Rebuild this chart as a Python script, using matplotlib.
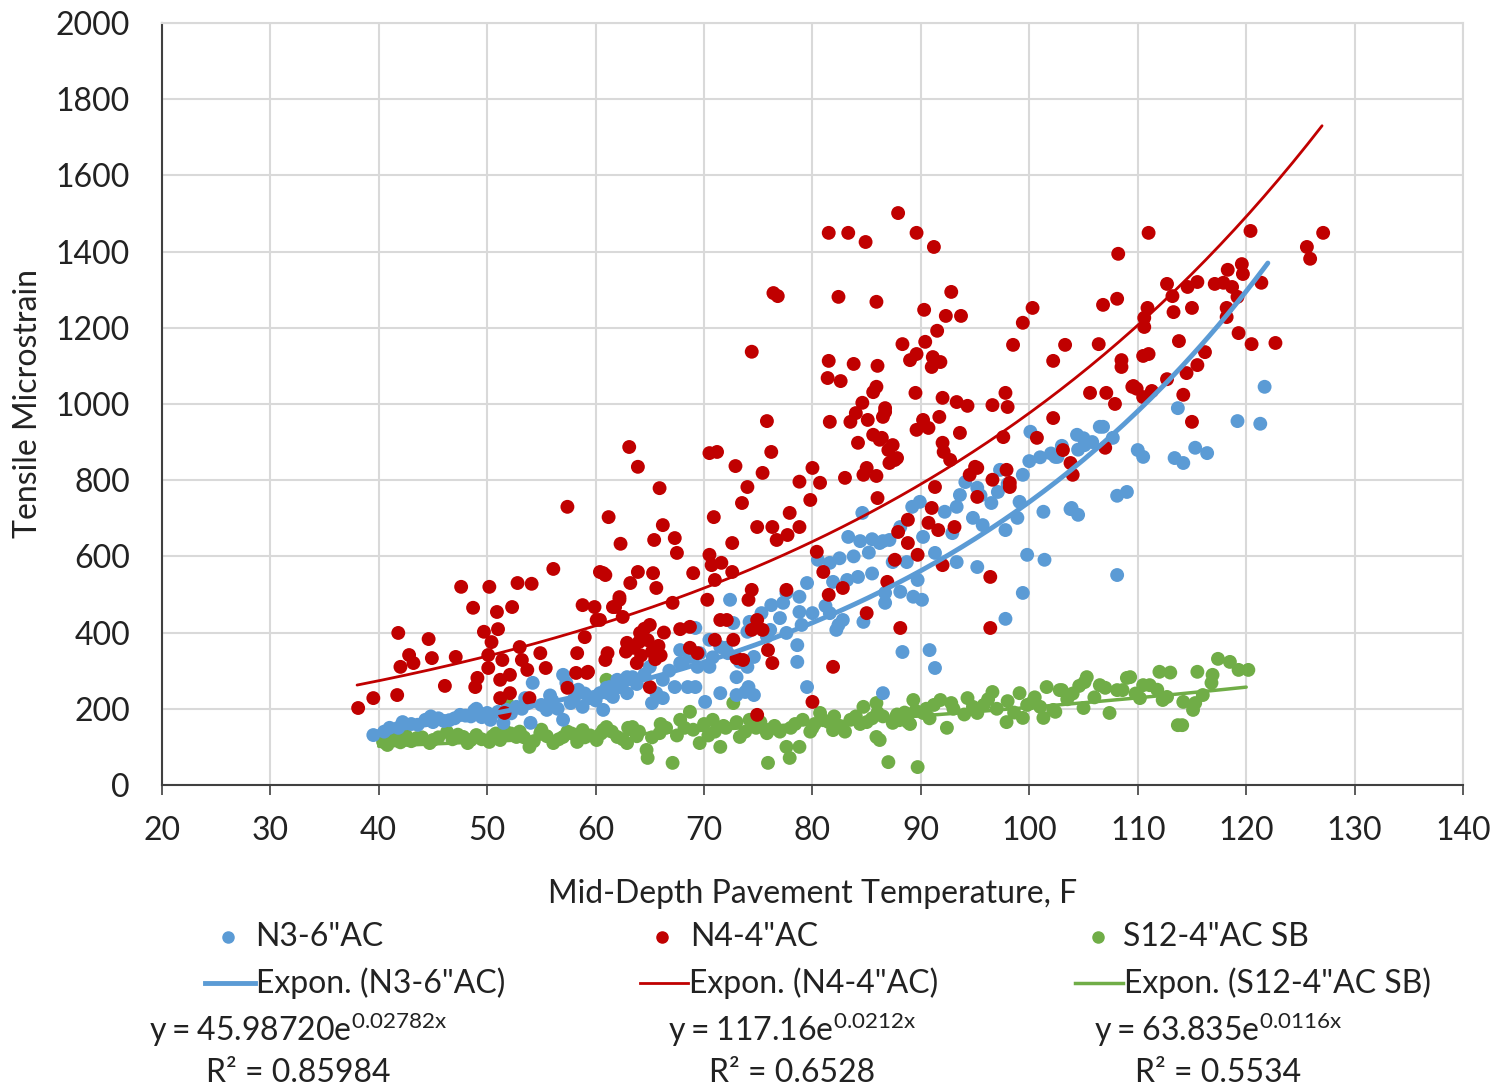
import matplotlib
matplotlib.use("Agg")
import matplotlib.pyplot as plt
import numpy as np
from matplotlib.lines import Line2D

plt.rcParams['font.family'] = ['Lato', 'DejaVu Sans']

# N3-6"AC (blue)
n3_x = [39.5, 42.2, 44.3, 47.5, 50.0, 50.3, 51.5, 51.8, 52.7, 53.8, 54.2, 55.5, 54.0, 57.0, 57.3, 57.0,
        57.7, 59.5, 61.0, 62.0, 62.9, 58.8, 60.7, 61.6, 62.9, 41.0, 43.0, 45.5, 48.5, 49.0, 46.5,
        40.5, 41.8, 43.6, 45.0, 46.0, 47.0, 48.0, 49.5, 51.0, 52.2, 53.2, 55.0, 56.0, 56.5, 58.0,
        59.0, 60.0, 61.2, 62.4, 63.8, 64.5, 58.4, 55.8, 53.5, 48.8, 44.8,
        84.6, 83.3, 84.4, 85.5, 86.5, 80.5, 81.6, 82.5, 83.8, 85.2, 81.9, 83.2, 84.2, 85.5, 79.5,
        77.6, 78.8, 76.2, 77.3, 72.4, 75.3, 78.8, 80.0, 77.0, 74.2, 72.7, 69.2, 70.5, 74.0, 76.1,
        77.6, 78.6, 81.6, 82.2, 82.8, 84.7, 86.7, 67.8, 68.7, 69.6, 71.5, 72.2, 67.8, 69.4, 70.5,
        73.0, 74.0, 74.6, 73.3, 65.0, 63.4, 62.2, 61.3, 60.4, 66.2, 67.3, 65.6, 65.2, 66.2, 68.5,
        69.2, 70.1, 71.5, 73.0, 73.8, 74.6, 74.1, 79.5, 78.6, 86.5, 82.4,
        66.8, 68.0, 70.8, 72.0, 75.8, 79.0, 81.2,
        100.1, 104.4, 105.0, 105.8, 104.5, 106.5, 107.7, 102.6, 110.0, 113.4, 113.7, 108.1, 109.0,
        99.4, 101.3, 103.9, 104.5, 97.1, 99.1, 98.9, 97.8, 95.7, 94.8, 93.6, 94.1, 95.2, 97.3,
        93.3, 92.2, 92.9, 89.9, 89.2, 88.1, 87.1, 86.2, 90.2, 88.7, 87.4, 91.3, 93.3, 95.2, 89.7,
        88.1, 86.7, 89.3, 90.1, 99.8, 101.4, 108.1, 99.4, 97.8, 88.3, 90.8, 91.3,
        119.2, 121.3, 121.7, 106.8, 105.1, 110.5, 114.2, 115.3, 116.4, 102.4, 103.8,
        95.5, 96.5, 98.0, 101.0, 102.0, 103.0, 100.0]
n3_y = [131, 165, 171, 184, 189, 171, 163, 197, 205, 215, 268, 197, 163, 289, 268, 171,
        215, 228, 255, 276, 283, 205, 197, 231, 241, 150, 160, 175, 180, 200, 170,
        140, 150, 158, 165, 168, 175, 182, 178, 192, 188, 200, 210, 222, 200, 225,
        240, 222, 240, 262, 265, 290, 250, 235, 228, 195, 180,
        714, 651, 640, 645, 640, 591, 583, 595, 600, 610, 533, 538, 546, 555, 530,
        504, 494, 472, 478, 486, 451, 454, 451, 438, 428, 425, 412, 381, 402, 407,
        399, 367, 451, 407, 433, 428, 478, 354, 336, 346, 362, 346, 320, 310, 310,
        283, 310, 336, 323, 310, 283, 257, 257, 241, 276, 257, 241, 215, 228, 257,
        257, 218, 241, 236, 244, 236, 257, 257, 323, 241, 420,
        300, 320, 335, 360, 390, 420, 470,
        927, 919, 910, 900, 880, 940, 911, 861, 879, 858, 989, 759, 769,
        814, 717, 727, 709, 769, 743, 701, 669, 682, 701, 761, 795, 780, 827,
        730, 717, 661, 743, 730, 677, 643, 635, 651, 585, 585, 609, 585, 572, 538,
        507, 504, 494, 486, 604, 591, 551, 504, 436, 349, 354, 307,
        955, 948, 1045, 940, 892, 861, 845, 885, 871, 861, 724,
        760, 740, 790, 860, 870, 890, 850]

# N4-4"AC (red)
n4_x = [38.1, 39.5, 41.7, 41.8, 42.0, 42.8, 43.2, 44.6, 44.9, 46.1, 47.1, 47.6, 48.7, 48.9, 49.1,
        49.7, 50.1, 50.2, 50.4, 50.9, 51.0, 50.1, 51.2, 51.4, 52.1, 52.3, 52.8, 53.0, 53.2, 53.7,
        54.1, 54.9, 55.4, 56.1, 57.4, 57.4, 58.8, 59.3, 59.9, 60.4, 60.9, 61.2, 62.3, 51.2, 51.6,
        52.1, 53.9, 58.3, 59.0, 58.2, 59.2, 60.1, 61.6, 62.2, 62.5, 62.9,
        63.1, 63.9, 65.9, 65.4, 66.2, 67.3, 67.5, 60.7, 63.2, 63.9, 65.3, 65.6, 69.0, 68.7, 67.8,
        67.1, 70.5, 71.2, 72.9, 75.8, 76.2, 75.4, 74.0, 73.5, 70.9, 70.5, 70.7, 71.6, 72.6, 72.6,
        71.0, 70.3, 74.4, 74.1, 74.9, 76.3, 76.7, 77.7, 78.8, 77.9, 80.0, 80.7, 78.8, 79.8, 81.6,
        83.5, 83.0, 84.2, 85.0, 86.0, 80.4, 81.0, 82.8, 81.5, 77.6, 85.0, 81.9, 80.0, 74.9, 76.3,
        75.9, 74.9, 75.4, 74.4, 73.6, 72.7, 73.0, 71.0, 71.5, 72.1, 68.7, 69.4, 65.0, 64.1, 60.9,
        61.1, 62.2, 61.8, 60.4,
        63.5, 64.2, 64.8, 65.2, 65.5, 64.5, 63.8, 65.8, 66.3, 62.8, 64.0, 65.0, 66.0,
        74.4, 76.4, 76.8,
        87.9, 81.5, 83.3, 84.9, 89.6, 91.2, 82.4, 85.9, 92.8, 90.3, 92.3, 93.7, 91.5, 100.3, 99.4,
        98.5, 103.3, 102.2, 88.3, 90.4, 89.0, 89.6, 91.1, 91.8, 91.0, 81.5, 81.4, 82.6, 83.8, 86.0,
        85.9, 85.6, 89.5, 92.0, 93.3, 94.3, 96.6, 97.8, 98.0, 84.6, 84.0, 85.1, 86.7, 86.5, 90.2,
        91.7, 89.6, 90.7, 93.6, 102.2, 85.6, 86.4, 87.4, 87.0, 87.8, 87.1, 92.0, 92.1, 92.7, 84.7,
        85.9, 95.0, 94.5, 96.6, 97.9, 98.2, 100.7, 103.1, 103.8, 91.3,
        86.7, 86.2, 87.6, 97.6, 105.6, 107.1, 107.9, 109.6, 110.5, 104.0, 107.0, 95.2, 98.2, 95.2,
        91.0, 88.8, 90.7, 91.6, 93.1, 87.9, 88.8, 89.7, 87.6, 92.0, 86.9, 96.4, 88.1, 96.4,
        111.0, 108.2, 120.4, 127.1, 125.6, 125.9, 119.6, 118.3, 119.7, 112.7, 115.5, 114.6, 117.1,
        117.9, 118.7, 121.4, 113.2, 106.8, 108.1, 110.9, 110.6, 110.6, 113.3, 115.0, 119.2, 118.2,
        118.2, 119.3, 120.5, 122.7, 106.4, 108.5, 108.5, 110.5, 111.0, 113.8, 116.2, 115.5, 114.5,
        112.7, 109.5, 109.9, 111.3, 114.2, 115.0]
n4_y = [202, 228, 236, 399, 310, 341, 320, 383, 333, 260, 336, 520, 465, 257, 281,
        402, 341, 520, 375, 454, 409, 307, 276, 328, 289, 467, 530, 362, 328, 302,
        528, 346, 307, 567, 730, 255, 472, 297, 467, 559, 551, 703, 633, 228, 189,
        241, 228, 346, 388, 294, 294, 433, 467, 493, 441, 373,
        887, 835, 779, 643, 682, 648, 609, 556, 530, 559, 556, 517, 556, 415, 409,
        478, 871, 874, 837, 955, 874, 819, 782, 740, 703, 604, 577, 583, 559, 635,
        538, 486, 512, 486, 677, 677, 643, 656, 677, 714, 832, 793, 796, 748, 953,
        953, 806, 898, 832, 753, 612, 559, 517, 499, 512, 451, 310, 218, 184, 320,
        354, 433, 407, 407, 328, 381, 333, 381, 433, 433, 360, 346, 257, 399, 328,
        346, 486, 467, 433,
        360, 340, 380, 350, 330, 410, 320, 365, 400, 350, 375, 420, 340,
        1137, 1291, 1283,
        1501, 1449, 1449, 1425, 1449, 1412, 1281, 1268, 1294, 1247, 1231, 1231, 1192, 1252, 1213,
        1155, 1155, 1113, 1157, 1163, 1115, 1131, 1123, 1110, 1097, 1113, 1068, 1060, 1105, 1100,
        1045, 1031, 1029, 1016, 1005, 995, 997, 1029, 992, 1003, 976, 958, 989, 966, 958,
        966, 932, 937, 924, 963, 919, 911, 892, 879, 858, 845, 898, 874, 853, 814,
        811, 835, 814, 801, 827, 793, 911, 879, 845, 782,
        979, 906, 853, 913, 1029, 1029, 1000, 1047, 1018, 814, 885, 832, 782, 756,
        727, 696, 688, 669, 677, 664, 635, 604, 591, 577, 533, 546, 412, 412,
        1449, 1394, 1454, 1449, 1412, 1381, 1367, 1352, 1341, 1315, 1320, 1307, 1315,
        1318, 1307, 1318, 1283, 1260, 1276, 1252, 1226, 1202, 1241, 1252, 1281, 1252,
        1228, 1186, 1157, 1160, 1157, 1115, 1097, 1126, 1131, 1165, 1136, 1102, 1081,
        1065, 1045, 1040, 1034, 1024, 953]

# S12-4"AC SB (green)
s12_x = [40.4, 41.7, 43.5, 44.7, 46.3, 47.8, 49.0, 50.2, 51.8, 51.6, 52.7, 53.9, 54.9, 56.1, 57.0,
         58.3, 58.8, 60.1, 61.0, 61.0, 62.0, 62.9,
         41.0, 42.5, 45.5, 48.5, 50.8, 53.0, 55.5, 57.8, 59.5,
         40.8, 42.0, 43.0, 44.0, 45.0, 46.8, 47.3, 48.2, 49.5, 50.5, 51.2, 52.2, 53.4, 54.3, 55.0,
         56.6, 57.4, 59.0, 60.5, 61.5, 62.5, 63.0, 63.8,
         60.7, 63.4, 64.7, 64.8, 67.1, 65.9, 67.8, 68.7, 69.6, 70.8, 71.5, 72.7, 73.3, 74.2, 75.8,
         75.9, 77.6, 77.9, 78.8, 79.1, 80.7, 81.9, 83.5, 84.7, 85.9, 85.9, 87.0, 87.4,
         64.0, 66.5, 67.5, 69.0, 70.0, 71.0, 72.0, 73.0, 74.8, 76.5, 77.0, 78.0, 79.8, 80.2, 81.0,
         82.5, 83.0, 84.0, 85.0, 86.5, 88.0, 88.5, 89.0, 90.5,
         65.2, 66.0, 68.2, 70.4, 71.8, 73.8, 75.2, 76.0, 78.4, 80.0, 81.5, 82.0, 84.4, 85.5, 86.0,
         87.8, 88.8, 89.5, 90.8, 91.2,
         89.7, 86.2, 87.7, 89.3, 90.2, 91.8, 92.4, 94.3, 95.2, 96.6, 97.9, 99.1, 99.4, 101.3, 101.6,
         103.0, 102.2, 105.3, 105.0, 107.4, 108.1, 109.3, 110.5, 112.0, 112.3, 113.7,
         93.0, 94.0, 95.8, 97.0, 98.0, 99.8, 100.5, 101.0, 103.5, 104.0, 106.0, 107.0,
         92.8, 94.8, 96.2, 98.6, 100.2, 104.6, 109.8,
         117.4, 118.5, 120.2, 119.3, 116.9, 115.5, 113.0, 106.5, 109.0, 108.6, 110.2, 111.1, 111.8,
         112.7, 114.2, 115.3, 115.1, 114.1, 102.4, 102.8, 116.0, 116.8, 105.1]
s12_y = [113, 126, 123, 110, 139, 126, 131, 113, 218, 144, 126, 100, 136, 110, 126,
         113, 144, 118, 276, 152, 126, 110,
         118, 130, 125, 118, 135, 140, 128, 135, 130,
         105, 112, 115, 125, 118, 120, 132, 110, 120, 128, 118, 135, 125, 115, 145,
         120, 140, 125, 135, 140, 120, 150, 128,
         144, 152, 92, 71, 58, 136, 171, 192, 110, 171, 100, 215, 126, 171, 136,
         58, 100, 71, 100, 171, 189, 144, 171, 205, 215, 126, 60, 163,
         140, 150, 130, 145, 160, 140, 150, 165, 150, 155, 140, 150, 140, 160, 170,
         155, 140, 180, 165, 180, 170, 190, 160, 200,
         125, 160, 150, 130, 155, 140, 165, 145, 160, 150, 165, 180, 160, 175, 190,
         185, 165, 195, 175, 210,
         47, 118, 178, 223, 189, 223, 150, 228, 189, 244, 165, 241, 176, 176, 257,
         249, 197, 283, 202, 189, 249, 283, 262, 297, 223, 157,
         200, 185, 210, 200, 220, 210, 230, 205, 225, 240, 230, 255,
         215, 205, 225, 190, 215, 260, 240,
         331, 323, 302, 302, 289, 297, 295, 262, 281, 249, 228, 262, 250,
         231, 218, 215, 197, 157, 192, 249, 236, 268, 270]

# exponential trendlines (coef, exponent, x range), as given in the chart
fits = [(45.98720, 0.02782, 39.5, 122.0),
        (117.16, 0.0212, 38.0, 127.0),
        (63.835, 0.0116, 40.0, 120.0)]

names = ['N3-6"AC', 'N4-4"AC', 'S12-4"AC SB']
eq_labels = [r'$\mathregular{y = 45.98720e^{0.02782x}}$',
             r'$\mathregular{y = 117.16e^{0.0212x}}$',
             r'$\mathregular{y = 63.835e^{0.0116x}}$']
r2_labels = ['R² = 0.85984', 'R² = 0.6528', 'R² = 0.5534']

colors = ['#5B9BD5', '#C00000', '#70AD47']
line_w = [3.5, 2.0, 2.5]

fig = plt.figure(figsize=(14.99, 10.91), dpi=100)
ax = fig.add_axes([0.108, 0.2805, 0.868, 0.6985])

xs = [n3_x, n4_x, s12_x]
ys = [n3_y, n4_y, s12_y]
for i in [2, 0, 1]:
    ax.scatter(xs[i], ys[i], s=100, color=colors[i], edgecolors='none', zorder=3)
for i in range(3):
    a, b, x0, x1 = fits[i]
    xx = np.linspace(x0, x1, 200)
    ax.plot(xx, a * np.exp(b * xx), color=colors[i], lw=line_w[i], zorder=4,
            solid_capstyle='round')

ax.set_xlim(20, 140)
ax.set_ylim(0, 2000)
ax.set_xticks(np.arange(20, 141, 10))
ax.set_yticks(np.arange(0, 2001, 200))
ax.grid(True, color='#D9D9D9', lw=1.5)
ax.set_axisbelow(True)
for sp in ax.spines.values():
    sp.set_color('#D9D9D9')
    sp.set_linewidth(1.5)
ax.spines['bottom'].set_color('#404040')
ax.spines['left'].set_color('#404040')
ax.tick_params(axis='x', length=7, width=1.2, color='#404040', labelsize=23, pad=15,
               labelcolor='#222222')
ax.tick_params(axis='y', length=0, labelsize=23, pad=23, labelcolor='#222222')
ax.set_xlabel('Mid-Depth Pavement Temperature, F', fontsize=23, labelpad=24, color='#222222')
ax.set_ylabel('Tensile Microstrain', fontsize=23, labelpad=9, color='#222222')

W, H = 1499.0, 1091.0
mark_px = [228, 662, 1098]
text_px = [255, 690, 1123]
line_px = [(205, 255), (640, 688), (1075, 1123)]
eq_px = [298, 792, 1218]
for i in range(3):
    fig.add_artist(Line2D([mark_px[i] / W], [1 - 937 / H], marker='o', ms=8,
                          color=colors[i], ls='none', transform=fig.transFigure))
    fig.text(text_px[i] / W, 1 - 937 / H, names[i], fontsize=23, va='center',
             ha='left', color='#222222')
    x0, x1 = line_px[i]
    fig.add_artist(Line2D([x0 / W, x1 / W], [1 - 983 / H, 1 - 983 / H], lw=line_w[i],
                          color=colors[i], transform=fig.transFigure))
    fig.text((x1 + 1) / W, 1 - 983 / H, 'Expon. (' + names[i] + ')', fontsize=23,
             va='center', ha='left', color='#222222')
    fig.text(eq_px[i] / W, 1 - 1030 / H, eq_labels[i], fontsize=23, va='center',
             ha='center', color='#222222')
    fig.text(eq_px[i] / W, 1 - 1073 / H, r2_labels[i], fontsize=23, va='center',
             ha='center', color='#222222')

fig.savefig('out.png', dpi=100)
